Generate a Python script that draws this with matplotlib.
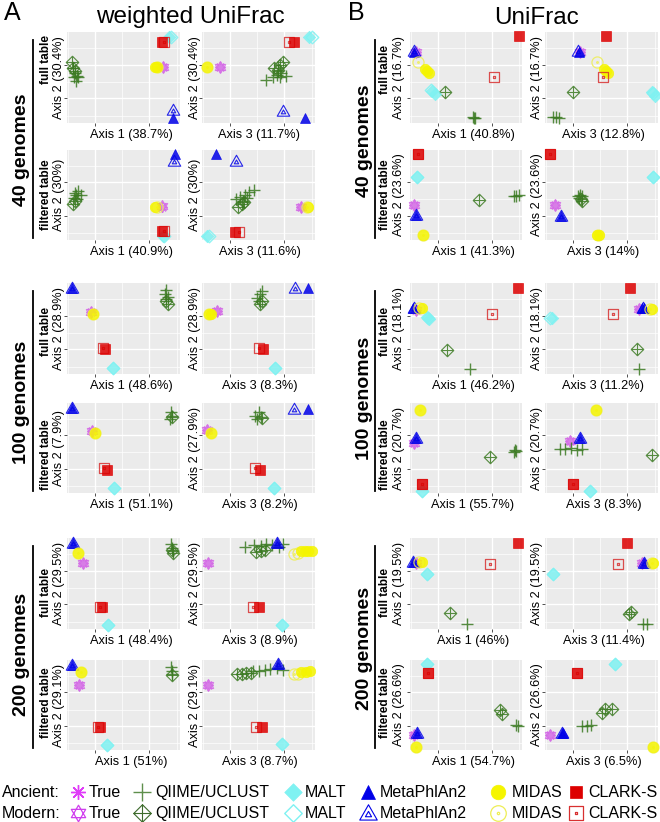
import matplotlib
matplotlib.use('Agg')
import matplotlib.pyplot as plt
from matplotlib.path import Path
from matplotlib.lines import Line2D
import numpy as np

plt.rcParams['font.family'] = ['Liberation Sans', 'DejaVu Sans']

# ---------------- data (normalized PCoA coordinates within each panel) ----------------
# codes: a=Ancient, m=Modern ; T=True, Q=QIIME/UCLUST, M=MALT, P=MetaPhlAn2, D=MIDAS, C=CLARK-S
A40_full_1 = {'aT': [(0.85, 0.62)], 'mT': [(0.85, 0.62)],
              'aQ': [(0.05, 0.6), (0.07, 0.55), (0.09, 0.52), (0.06, 0.5), (0.1, 0.5), (0.08, 0.46)],
              'mQ': [(0.04, 0.67), (0.05, 0.6), (0.07, 0.57)],
              'aM': [(0.9, 0.95)], 'mM': [(0.92, 0.95)],
              'aP': [(0.94, 0.05)], 'mP': [(0.94, 0.14)],
              'aD': [(0.78, 0.62), (0.8, 0.62)], 'mD': [(0.8, 0.62)],
              'aC': [(0.84, 0.89)], 'mC': [(0.86, 0.89)]}
A40_full_3 = {'aT': [(0.16, 0.62)], 'mT': [(0.16, 0.62)],
              'aQ': [(0.57, 0.47), (0.63, 0.5), (0.66, 0.53), (0.7, 0.55), (0.74, 0.52), (0.67, 0.57), (0.69, 0.5)],
              'mQ': [(0.64, 0.6), (0.69, 0.64), (0.72, 0.67), (0.67, 0.58)],
              'aM': [(0.95, 0.95)], 'mM': [(0.97, 0.95)],
              'aP': [(0.91, 0.05)], 'mP': [(0.72, 0.13)],
              'aD': [(0.04, 0.62)], 'mD': [(0.04, 0.62)],
              'aC': [(0.81, 0.89)], 'mC': [(0.77, 0.89)]}
A40_filt_1 = {'aT': [(0.84, 0.37)], 'mT': [(0.84, 0.38)],
              'aQ': [(0.06, 0.47), (0.08, 0.5), (0.1, 0.54), (0.12, 0.5), (0.09, 0.45), (0.07, 0.52)],
              'mQ': [(0.05, 0.4), (0.07, 0.43)],
              'aM': [(0.85, 0.04)], 'mM': [(0.86, 0.04)],
              'aP': [(0.96, 0.96)], 'mP': [(0.95, 0.88)],
              'aD': [(0.78, 0.37)], 'mD': [(0.8, 0.37)],
              'aC': [(0.84, 0.1)], 'mC': [(0.86, 0.1)]}
A40_filt_3 = {'aT': [(0.88, 0.37)], 'mT': [(0.88, 0.37)],
              'aQ': [(0.3, 0.45), (0.34, 0.48), (0.38, 0.5), (0.42, 0.53), (0.46, 0.55), (0.36, 0.43), (0.4, 0.47)],
              'mQ': [(0.32, 0.37), (0.35, 0.4), (0.37, 0.42)],
              'aM': [(0.04, 0.04)], 'mM': [(0.06, 0.04)],
              'aP': [(0.12, 0.96)], 'mP': [(0.3, 0.88)],
              'aD': [(0.94, 0.37)], 'mD': [(0.93, 0.37)],
              'aC': [(0.29, 0.09)], 'mC': [(0.33, 0.09)]}
A100_full_1 = {'aT': [(0.21, 0.68)], 'mT': [(0.21, 0.68)],
               'aQ': [(0.88, 0.92), (0.87, 0.88), (0.89, 0.85), (0.88, 0.82)],
               'mQ': [(0.88, 0.8), (0.89, 0.77)],
               'aM': [(0.41, 0.07)], 'mM': [(0.41, 0.07)],
               'aP': [(0.04, 0.95)], 'mP': [(0.04, 0.94)],
               'aD': [(0.23, 0.66)], 'mD': [(0.23, 0.66)],
               'aC': [(0.34, 0.27)], 'mC': [(0.32, 0.29)]}
A100_full_3 = {'aT': [(0.13, 0.69)], 'mT': [(0.13, 0.69)],
               'aQ': [(0.49, 0.84), (0.51, 0.88), (0.53, 0.91), (0.5, 0.8)],
               'mQ': [(0.51, 0.77), (0.53, 0.8)],
               'aM': [(0.65, 0.07)], 'mM': [(0.65, 0.07)],
               'aP': [(0.94, 0.95)], 'mP': [(0.82, 0.95)],
               'aD': [(0.06, 0.66), (0.08, 0.66)], 'mD': [(0.06, 0.66)],
               'aC': [(0.54, 0.27)], 'mC': [(0.5, 0.29)]}
A100_filt_1 = {'aT': [(0.22, 0.69)], 'mT': [(0.22, 0.69)],
               'aQ': [(0.92, 0.9), (0.93, 0.86), (0.91, 0.82)],
               'mQ': [(0.93, 0.84)],
               'aM': [(0.42, 0.06)], 'mM': [(0.42, 0.06)],
               'aP': [(0.04, 0.94)], 'mP': [(0.04, 0.94)],
               'aD': [(0.25, 0.67)], 'mD': [(0.25, 0.67)],
               'aC': [(0.35, 0.26)], 'mC': [(0.33, 0.28)]}
A100_filt_3 = {'aT': [(0.04, 0.7)], 'mT': [(0.04, 0.7)],
               'aQ': [(0.47, 0.86), (0.5, 0.9), (0.52, 0.84), (0.49, 0.82)],
               'mQ': [(0.53, 0.83)],
               'aM': [(0.64, 0.06)], 'mM': [(0.64, 0.06)],
               'aP': [(0.94, 0.93)], 'mP': [(0.81, 0.93)],
               'aD': [(0.08, 0.67)], 'mD': [(0.08, 0.67)],
               'aC': [(0.51, 0.26)], 'mC': [(0.47, 0.28)]}
A200_full_1 = {'aT': [(0.14, 0.72)], 'mT': [(0.14, 0.72)],
               'aQ': [(0.92, 0.93), (0.93, 0.89), (0.94, 0.86)],
               'mQ': [(0.94, 0.84), (0.93, 0.87)],
               'aM': [(0.36, 0.04)], 'mM': [(0.36, 0.04)],
               'aP': [(0.05, 0.95)], 'mP': [(0.05, 0.95)],
               'aD': [(0.1, 0.84)], 'mD': [(0.1, 0.84)],
               'aC': [(0.31, 0.24)], 'mC': [(0.29, 0.24)]}
A200_full_3 = {'aT': [(0.05, 0.72)], 'mT': [(0.05, 0.72)],
               'aQ': [(0.38, 0.9), (0.46, 0.92), (0.52, 0.91), (0.57, 0.93), (0.62, 0.92), (0.72, 0.93), (0.68, 0.9)],
               'mQ': [(0.48, 0.85), (0.52, 0.86), (0.56, 0.87)],
               'aM': [(0.71, 0.04)], 'mM': [(0.71, 0.04)],
               'aP': [(0.66, 0.95)], 'mP': [(0.66, 0.95)],
               'aD': [(0.88, 0.86), (0.91, 0.86), (0.94, 0.86), (0.97, 0.86)], 'mD': [(0.81, 0.82), (0.85, 0.84)],
               'aC': [(0.5, 0.24)], 'mC': [(0.45, 0.24)]}
A200_filt_1 = {'aT': [(0.11, 0.72)], 'mT': [(0.11, 0.72)],
               'aQ': [(0.92, 0.92), (0.93, 0.88), (0.93, 0.84)],
               'mQ': [(0.93, 0.83)],
               'aM': [(0.35, 0.06)], 'mM': [(0.35, 0.06)],
               'aP': [(0.04, 0.95)], 'mP': [(0.04, 0.95)],
               'aD': [(0.12, 0.87)], 'mD': [(0.12, 0.87)],
               'aC': [(0.29, 0.26)], 'mC': [(0.27, 0.26)]}
A200_filt_3 = {'aT': [(0.05, 0.72)], 'mT': [(0.05, 0.72)],
               'aQ': [(0.45, 0.88), (0.5, 0.88), (0.56, 0.89), (0.6, 0.9), (0.66, 0.91), (0.72, 0.89)],
               'mQ': [(0.31, 0.85), (0.35, 0.85), (0.39, 0.86), (0.43, 0.86)],
               'aM': [(0.71, 0.07)], 'mM': [(0.71, 0.07)],
               'aP': [(0.67, 0.96)], 'mP': [(0.67, 0.96)],
               'aD': [(0.88, 0.87), (0.92, 0.87), (0.96, 0.88)], 'mD': [(0.81, 0.84), (0.85, 0.85)],
               'aC': [(0.53, 0.26)], 'mC': [(0.48, 0.26)]}

B40_full_1 = {'aT': [(0.05, 0.78)], 'mT': [(0.05, 0.78)],
              'aQ': [(0.57, 0.06), (0.56, 0.07), (0.58, 0.05)],
              'mQ': [(0.31, 0.34)],
              'aM': [(0.2, 0.35), (0.22, 0.32)], 'mM': [(0.19, 0.36)],
              'aP': [(0.04, 0.78)], 'mP': [(0.04, 0.79)],
              'aD': [(0.13, 0.59), (0.15, 0.57), (0.17, 0.55)], 'mD': [(0.07, 0.67)],
              'aC': [(0.97, 0.96)], 'mC': [(0.75, 0.5)]}
B40_full_3 = {'aT': [(0.31, 0.78)], 'mT': [(0.31, 0.78)],
              'aQ': [(0.07, 0.07), (0.1, 0.07), (0.12, 0.06)],
              'mQ': [(0.25, 0.34)],
              'aM': [(0.95, 0.34), (0.97, 0.3)], 'mM': [(0.96, 0.33)],
              'aP': [(0.3, 0.78)], 'mP': [(0.29, 0.79)],
              'aD': [(0.52, 0.59), (0.54, 0.57), (0.56, 0.55)], 'mD': [(0.46, 0.67)],
              'aC': [(0.54, 0.96)], 'mC': [(0.51, 0.5)]}
B40_filt_1 = {'aT': [(0.04, 0.39)], 'mT': [(0.04, 0.39)],
              'aQ': [(0.93, 0.49), (0.95, 0.49), (0.97, 0.5)],
              'mQ': [(0.62, 0.44)],
              'aM': [(0.06, 0.7)], 'mM': [(0.06, 0.7)],
              'aP': [(0.05, 0.28)], 'mP': [(0.05, 0.28)],
              'aD': [(0.12, 0.06)], 'mD': [(0.12, 0.06)],
              'aC': [(0.07, 0.96)], 'mC': [(0.07, 0.96)]}
B40_filt_3 = {'aT': [(0.09, 0.39)], 'mT': [(0.09, 0.39)],
              'aQ': [(0.29, 0.49), (0.31, 0.5), (0.33, 0.49), (0.3, 0.47)],
              'mQ': [(0.33, 0.43), (0.32, 0.45)],
              'aM': [(0.96, 0.7)], 'mM': [(0.96, 0.7)],
              'aP': [(0.14, 0.27)], 'mP': [(0.14, 0.27)],
              'aD': [(0.46, 0.06), (0.48, 0.06)], 'mD': [(0.47, 0.06)],
              'aC': [(0.04, 0.96)], 'mC': [(0.04, 0.96)]}
B100_full_1 = {'aT': [(0.05, 0.7)], 'mT': [(0.05, 0.7)],
               'aQ': [(0.54, 0.05)],
               'mQ': [(0.33, 0.26)],
               'aM': [(0.17, 0.6), (0.15, 0.63)], 'mM': [(0.16, 0.62)],
               'aP': [(0.03, 0.72)], 'mP': [(0.04, 0.72)],
               'aD': [(0.11, 0.72)], 'mD': [(0.08, 0.72)],
               'aC': [(0.96, 0.95)], 'mC': [(0.73, 0.66)]}
B100_full_3 = {'aT': [(0.83, 0.71)], 'mT': [(0.83, 0.71)],
               'aQ': [(0.83, 0.05)],
               'mQ': [(0.81, 0.27)],
               'aM': [(0.06, 0.62)], 'mM': [(0.04, 0.62)],
               'aP': [(0.86, 0.73), (0.88, 0.73)], 'mP': [(0.87, 0.73)],
               'aD': [(0.95, 0.71)], 'mD': [(0.93, 0.71)],
               'aC': [(0.75, 0.95)], 'mC': [(0.6, 0.66)]}
B100_filt_1 = {'aT': [(0.04, 0.55)], 'mT': [(0.04, 0.55)],
               'aQ': [(0.94, 0.48), (0.93, 0.46), (0.95, 0.47)],
               'mQ': [(0.71, 0.4)],
               'aM': [(0.11, 0.02)], 'mM': [(0.11, 0.02)],
               'aP': [(0.05, 0.61)], 'mP': [(0.05, 0.61)],
               'aD': [(0.09, 0.92)], 'mD': [(0.09, 0.92)],
               'aC': [(0.11, 0.1)], 'mC': [(0.11, 0.1)]}
B100_filt_3 = {'aT': [(0.22, 0.58)], 'mT': [(0.22, 0.58)],
               'aQ': [(0.13, 0.49), (0.18, 0.49), (0.23, 0.5), (0.28, 0.48), (0.33, 0.49)],
               'mQ': [(0.95, 0.42)],
               'aM': [(0.4, 0.02)], 'mM': [(0.4, 0.02)],
               'aP': [(0.31, 0.61)], 'mP': [(0.31, 0.61)],
               'aD': [(0.45, 0.92)], 'mD': [(0.45, 0.92)],
               'aC': [(0.25, 0.1)], 'mC': [(0.25, 0.1)]}
B200_full_1 = {'aT': [(0.05, 0.72)], 'mT': [(0.05, 0.72)],
               'aQ': [(0.51, 0.05)],
               'mQ': [(0.36, 0.18)],
               'aM': [(0.15, 0.6)], 'mM': [(0.15, 0.6)],
               'aP': [(0.03, 0.74)], 'mP': [(0.03, 0.74)],
               'aD': [(0.11, 0.74)], 'mD': [(0.08, 0.74)],
               'aC': [(0.96, 0.95)], 'mC': [(0.71, 0.71)]}
B200_full_3 = {'aT': [(0.86, 0.72)], 'mT': [(0.86, 0.72)],
               'aQ': [(0.87, 0.05), (0.9, 0.06)],
               'mQ': [(0.74, 0.17), (0.76, 0.19)],
               'aM': [(0.07, 0.6)], 'mM': [(0.07, 0.6)],
               'aP': [(0.88, 0.73)], 'mP': [(0.88, 0.73)],
               'aD': [(0.96, 0.73)], 'mD': [(0.95, 0.73)],
               'aC': [(0.73, 0.95)], 'mC': [(0.65, 0.71)]}
B200_filt_1 = {'aT': [(0.04, 0.17)], 'mT': [(0.04, 0.17)],
               'aQ': [(0.96, 0.27), (0.95, 0.28)],
               'mQ': [(0.8, 0.44), (0.82, 0.4)],
               'aM': [(0.15, 0.96)], 'mM': [(0.15, 0.96)],
               'aP': [(0.06, 0.19)], 'mP': [(0.06, 0.19)],
               'aD': [(0.05, 0.03)], 'mD': [(0.05, 0.03)],
               'aC': [(0.16, 0.86)], 'mC': [(0.16, 0.86)]}
B200_filt_3 = {'aT': [(0.04, 0.17)], 'mT': [(0.04, 0.17)],
               'aQ': [(0.33, 0.27), (0.37, 0.27), (0.41, 0.28)],
               'mQ': [(0.5, 0.41), (0.53, 0.46), (0.59, 0.46)],
               'aM': [(0.62, 0.96)], 'mM': [(0.62, 0.96)],
               'aP': [(0.16, 0.19), (0.15, 0.19)], 'mP': [(0.15, 0.19)],
               'aD': [(0.96, 0.03)], 'mD': [(0.96, 0.03)],
               'aC': [(0.28, 0.86)], 'mC': [(0.28, 0.86)]}

A_xlab1 = ['Axis 1 (38.7%)', 'Axis 1 (40.9%)', 'Axis 1 (48.6%)', 'Axis 1 (51.1%)', 'Axis 1 (48.4%)', 'Axis 1 (51%)']
A_xlab3 = ['Axis 3 (11.7%)', 'Axis 3 (11.6%)', 'Axis 3 (8.3%)', 'Axis 3 (8.2%)', 'Axis 3 (8.9%)', 'Axis 3 (8.7%)']
A_ylabL = ['Axis 2 (30.4%)', 'Axis 2 (30%)', 'Axis 2 (28.9%)', 'Axis 2 (7.9%)', 'Axis 2 (29.5%)', 'Axis 2 (29.1%)']
A_ylabR = ['Axis 2 (30.4%)', 'Axis 2 (30%)', 'Axis 2 (28.9%)', 'Axis 2 (27.9%)', 'Axis 2 (29.5%)', 'Axis 2 (29.1%)']
B_xlab1 = ['Axis 1 (40.8%)', 'Axis 1 (41.3%)', 'Axis 1 (46.2%)', 'Axis 1 (55.7%)', 'Axis 1 (46%)', 'Axis 1 (54.7%)']
B_xlab3 = ['Axis 3 (12.8%)', 'Axis 3 (14%)', 'Axis 3 (11.2%)', 'Axis 3 (8.3%)', 'Axis 3 (11.4%)', 'Axis 3 (6.5%)']
B_ylabL = ['Axis 2 (16.7%)', 'Axis 2 (23.6%)', 'Axis 2 (18.1%)', 'Axis 2 (20.7%)', 'Axis 2 (19.5%)', 'Axis 2 (26.6%)']
B_ylabR = B_ylabL
table_labels = ['full table', 'filtered table']
group_labels = ['40 genomes', '100 genomes', '200 genomes']
methods = ['True', 'QIIME/UCLUST', 'MALT', 'MetaPhlAn2', 'MIDAS', 'CLARK-S']

A_panels = [[A40_full_1, A40_full_3], [A40_filt_1, A40_filt_3], [A100_full_1, A100_full_3],
            [A100_filt_1, A100_filt_3], [A200_full_1, A200_full_3], [A200_filt_1, A200_filt_3]]
B_panels = [[B40_full_1, B40_full_3], [B40_filt_1, B40_filt_3], [B100_full_1, B100_full_3],
            [B100_filt_1, B100_filt_3], [B200_full_1, B200_full_3], [B200_filt_1, B200_filt_3]]

# ---------------- marker shapes ----------------
def poly(pts):
    pts = np.asarray(pts, float)
    v = np.vstack([pts, pts[:1]])
    c = [Path.MOVETO] + [Path.LINETO] * (len(pts) - 1) + [Path.CLOSEPOLY]
    return v, c

def seg(p, q):
    return np.array([p, q], float), [Path.MOVETO, Path.LINETO]

def compound(*parts):
    vs, cs = [], []
    for v, c in parts:
        vs.append(v)
        cs += list(c)
    return Path(np.vstack(vs), cs)

ang = np.deg2rad([90, 210, 330])
up = np.c_[np.cos(ang), np.sin(ang)]
STAR6 = compound(poly(up), poly(-up))
DIAM_PTS = [(0, 1), (1, 0), (0, -1), (-1, 0)]
DIAM = compound(poly(DIAM_PTS))
DPLUS = compound(poly(DIAM_PTS), seg((0, 1), (0, -1)), seg((-1, 0), (1, 0)))
outer = np.array([(0, 1), (-1, -0.75), (1, -0.75)])
cen = outer.mean(axis=0)
inner = cen + 0.35 * (outer - cen)
TRI2 = compound(poly(outer), poly(inner))
uc = Path.unit_circle()
CDOT = compound((uc.vertices, uc.codes), (uc.vertices * 0.15, uc.codes))
SQ = np.array([(-1, -1), (1, -1), (1, 1), (-1, 1)])
SDOT = compound(poly(SQ), poly(SQ * 0.15))

C_T, C_Q, C_M, C_P, C_D, C_C = '#d46be6', '#3b7a22', '#7ff2f2', '#0000e8', '#f5f500', '#dd0000'
SPEC = {
    'aT': dict(marker=(8, 2, 0), ms=7.5, mfc='none', mec=C_T, mew=1.0),
    'mT': dict(marker=STAR6, ms=8.5, mfc='none', mec=C_T, mew=0.9),
    'aQ': dict(marker='+', ms=9, mfc='none', mec=C_Q, mew=1.0),
    'mQ': dict(marker=DPLUS, ms=9, mfc='none', mec=C_Q, mew=0.8),
    'aM': dict(marker=DIAM, ms=9, mfc=C_M, mec=C_M, mew=0.5),
    'mM': dict(marker=DIAM, ms=9, mfc='none', mec=C_M, mew=1.0),
    'aP': dict(marker='^', ms=7.5, mfc=C_P, mec=C_P, mew=0.5),
    'mP': dict(marker=TRI2, ms=9, mfc='none', mec=C_P, mew=0.8),
    'aD': dict(marker='o', ms=7.5, mfc=C_D, mec=C_D, mew=0.5),
    'mD': dict(marker=CDOT, ms=8, mfc='none', mec='#eeee55', mew=0.9),
    'aC': dict(marker='s', ms=6.5, mfc=C_C, mec=C_C, mew=0.5),
    'mC': dict(marker=SDOT, ms=7.5, mfc='none', mec='#d83030', mew=0.9),
}
LEG_COL = {'aT': '#e03cf8', 'mT': '#d040ee', 'aQ': '#5e8f4c', 'mQ': '#3d6b2c'}
ORDER = ['mT', 'aT', 'mQ', 'aQ', 'mM', 'aM', 'mP', 'aP', 'mD', 'aD', 'mC', 'aC']

# ---------------- figure ----------------
W, H = 660, 822
fig = plt.figure(figsize=(W / 100, H / 100), dpi=100)

def fx(x):
    return x / W

def fy(y):
    return 1 - y / H

COLS = {'A': (67, 180, 202, 315), 'B': (410, 522, 545, 658)}
ROWS = [(32, 123), (150, 240), (283, 374), (403, 493), (538, 629), (660, 750)]
LAB = {'A': dict(grp=22, grp_y=[150, 402, 654], tab=46, tab_y=[60, 195, 331, 455, 592, 703],
                 yl=(59, 195), xoff=(8, 1), line=33, xl=(A_xlab1, A_xlab3), yls=(A_ylabL, A_ylabR), pan=A_panels),
       'B': dict(grp=365, grp_y=[141, 398, 648], tab=385, tab_y=[70, 195, 332, 455, 592, 703],
                 yl=(399, 537), xoff=(7, 2), line=375, xl=(B_xlab1, B_xlab3), yls=(B_ylabL, B_ylabR), pan=B_panels)}

def style_ax(ax):
    ax.set_facecolor('#ebebeb')
    for s in ax.spines.values():
        s.set_visible(False)
    ax.set_xlim(0, 1)
    ax.set_ylim(0, 1)
    ax.set_xticks([0.25, 0.73])
    ax.set_xticks([0.01, 0.49, 0.97], minor=True)
    ax.set_yticks([0.27, 0.64])
    ax.set_yticks([0.08, 0.45, 0.82], minor=True)
    ax.grid(True, which='major', color='white', lw=1.0)
    ax.grid(True, which='minor', color='white', lw=0.5)
    ax.tick_params(which='major', length=2.5, width=0.6, color='#333333', labelbottom=False, labelleft=False)
    ax.tick_params(which='minor', length=0)
    ax.set_axisbelow(True)

for col, (xa0, xa1, xb0, xb1) in COLS.items():
    L = LAB[col]
    for r, (y0, y1) in enumerate(ROWS):
        for k, (x0, x1) in enumerate([(xa0, xa1), (xb0, xb1)]):
            ax = fig.add_axes([fx(x0), fy(y1), (x1 - x0) / W, (y1 - y0) / H])
            style_ax(ax)
            data = L['pan'][r][k]
            for code in ORDER:
                pts = data.get(code, [])
                if not pts:
                    continue
                arr = np.array(pts)
                ax.plot(arr[:, 0], arr[:, 1], ls='none', alpha=0.85, clip_on=False, **SPEC[code])
            fig.text(fx((x0 + x1) / 2 + L['xoff'][k]), fy(y1 + 12), L['xl'][k][r], ha='center', va='center',
                     fontsize=9.2)
            fig.text(fx(L['yl'][k]), fy((y0 + y1) / 2), L['yls'][k][r], ha='center', va='center',
                     rotation=90, fontsize=9.2)
        fig.text(fx(L['tab']), fy(L['tab_y'][r]), table_labels[r % 2], ha='center', va='center',
                 rotation=90, fontsize=8.5, fontweight='bold')
    for g in range(3):
        ya = ROWS[2 * g][0]
        yb = ROWS[2 * g + 1][1]
        fig.text(fx(L['grp']), fy(L['grp_y'][g]), group_labels[g], ha='center', va='center',
                 rotation=90, fontsize=14, fontweight='bold')
        fig.add_artist(Line2D([fx(L['line'])] * 2, [fy(ya + 8), fy(yb - 2)], color='black', lw=1.3))

fig.text(fx(4), fy(13), 'A', fontsize=18, ha='left', va='center')
fig.text(fx(190), fy(17), 'weighted UniFrac', fontsize=17.5, ha='center', va='center')
fig.text(fx(348), fy(13), 'B', fontsize=18, ha='left', va='center')
fig.text(fx(537), fy(18), 'UniFrac', fontsize=17.5, ha='center', va='center')

# ---------------- legend ----------------
lax = fig.add_axes([0, 0, 1, 1])
lax.set_xlim(0, W)
lax.set_ylim(H, 0)
lax.axis('off')
lax.patch.set_alpha(0)
leg_mx = [78, 142, 293, 368, 498, 576]
leg_tx = [89, 155, 305, 380, 512, 588]
rows = [('Ancient:', 792, ['aT', 'aQ', 'aM', 'aP', 'aD', 'aC']),
        ('Modern:', 813, ['mT', 'mQ', 'mM', 'mP', 'mD', 'mC'])]
for lab, y, codes in rows:
    lax.text(2, y, lab, fontsize=11.5, ha='left', va='center')
    for i, code in enumerate(codes):
        sp = dict(SPEC[code])
        sp['ms'] = sp['ms'] * 1.4
        if code in LEG_COL:
            sp['mec'] = LEG_COL[code]
        lax.plot([leg_mx[i]], [y], ls='none', clip_on=False, **sp)
        lax.text(leg_tx[i], y, methods[i], fontsize=11.5, ha='left', va='center')

fig.savefig('out.png', dpi=100)
